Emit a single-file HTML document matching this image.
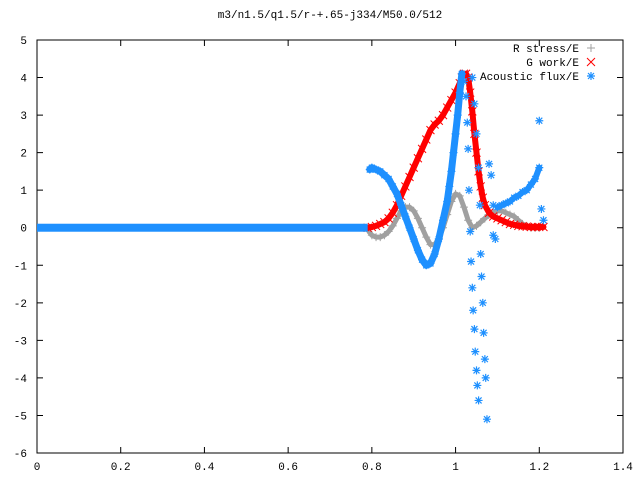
<!DOCTYPE html>
<html><head><meta charset="utf-8"><style>
body{margin:0;background:#fff}
svg{display:block}
text{font-family:"Liberation Mono","DejaVu Sans Mono",monospace;font-size:11px;fill:#000}
</style></head><body>
<svg id="c" width="640" height="480"></svg>
<script>
const xTicks=[0,0.2,0.4,0.6,0.8,1,1.2,1.4];
const xTickLabels=["0","0.2","0.4","0.6","0.8","1","1.2","1.4"];
const yTicks=[-6,-5,-4,-3,-2,-1,0,1,2,3,4,5];
const rX=[0.79,0.80,0.81,0.82,0.83,0.84,0.85,0.86,0.87,0.88,0.89,0.90,0.91,0.92,0.93,0.94,0.95,0.96,0.97,0.98,0.99,1.00,1.01,1.02,1.03,1.04,1.05,1.06,1.07,1.08,1.09,1.10,1.11,1.12,1.13,1.14,1.15,1.16,1.17,1.18,1.19,1.20];
const rY=[-0.05,-0.2,-0.25,-0.25,-0.2,-0.1,0.05,0.25,0.45,0.55,0.55,0.45,0.25,0,-0.25,-0.45,-0.45,-0.3,0,0.35,0.7,0.9,0.85,0.55,0.2,0,0.05,0.15,0.25,0.35,0.4,0.45,0.45,0.4,0.35,0.3,0.2,0.1,0.05,0,0,0];
const gX=[0.79,0.80,0.81,0.82,0.83,0.84,0.85,0.86,0.87,0.88,0.89,0.90,0.91,0.92,0.93,0.94,0.95,0.96,0.97,0.98,0.99,1.00,1.01,1.015,1.02,1.025,1.03,1.035,1.04,1.045,1.05,1.055,1.06,1.065,1.07,1.08,1.09,1.10,1.11,1.12,1.13,1.14,1.15,1.16,1.17,1.18,1.19,1.20,1.21];
const gY=[0,0.02,0.05,0.1,0.15,0.25,0.4,0.6,0.85,1.1,1.35,1.6,1.85,2.1,2.35,2.6,2.75,2.85,3.0,3.2,3.4,3.6,3.85,4.0,4.1,4.1,4.0,3.6,3.1,2.5,2.0,1.5,1.1,0.8,0.6,0.4,0.3,0.25,0.2,0.15,0.1,0.08,0.05,0.04,0.03,0.02,0.02,0.02,0.02];
const aX=[0.795,0.80,0.81,0.82,0.83,0.84,0.85,0.86,0.87,0.88,0.89,0.90,0.91,0.92,0.93,0.94,0.95,0.96,0.97,0.98,0.985,0.99,0.995,1.00,1.005,1.01,1.015,1.02,1.025,1.028,1.03,1.032,1.035,1.037,1.04,1.042,1.045,1.047,1.05,1.052,1.055,1.04,1.045,1.05,1.055,1.058,1.06,1.062,1.065,1.067,1.07,1.072,1.075,1.08,1.085,1.09,1.09,1.095,1.10,1.11,1.12,1.13,1.14,1.15,1.16,1.17,1.18,1.19,1.20,1.20,1.205,1.21];
const aY=[1.55,1.6,1.55,1.5,1.4,1.3,1.1,0.9,0.6,0.3,0,-0.3,-0.6,-0.85,-1.0,-0.95,-0.7,-0.3,0.2,0.7,1.1,1.5,2.0,2.5,3.0,3.6,4.1,3.9,3.5,2.8,2.1,1.0,-0.1,-0.9,-1.6,-2.2,-2.7,-3.3,-3.8,-4.2,-4.6,4.0,3.3,2.5,1.6,0.6,-0.7,-1.3,-2.0,-2.8,-3.5,-4.0,-5.1,1.7,1.4,0.6,-0.2,-0.3,0.55,0.6,0.65,0.7,0.8,0.85,0.95,1.0,1.15,1.3,1.6,2.85,0.5,0.2];
const flatX=[0,0.79];

const svg=document.getElementById('c');
const NS='http://www.w3.org/2000/svg';
const L=37,R=623,T=40,B=453,XMIN=0,XMAX=1.4,YMIN=-6,YMAX=5;
const sx=v=>L+(v-XMIN)/(XMAX-XMIN)*(R-L);
const sy=v=>B-(v-YMIN)/(YMAX-YMIN)*(B-T);
function mk(tag,a,p){const e=document.createElementNS(NS,tag);for(const k in a)e.setAttribute(k,a[k]);(p||svg).appendChild(e);return e;}
function plus(x,y,c,g){mk('path',{d:`M${x-4},${y}h8M${x},${y-4}v8`,stroke:c,'stroke-width':1,fill:'none'},g);}
function cross(x,y,c,g){mk('path',{d:`M${x-4},${y-4}l8,8M${x-4},${y+4}l8,-8`,stroke:c,'stroke-width':1,fill:'none'},g);}
function star(x,y,c,g){mk('path',{d:`M${x-4},${y}h8M${x},${y-4}v8M${x-3},${y-3}l6,6M${x-3},${y+3}l6,-6`,stroke:c,'stroke-width':1.2,fill:'none'},g);}
function band(xs,ys,i0,i1,c,w,g){let p=[];for(let i=i0;i<=i1;i++)p.push(sx(xs[i])+','+sy(ys[i]));
  mk('polyline',{points:p.join(' '),fill:'none',stroke:c,'stroke-width':w,'stroke-linejoin':'round','stroke-linecap':'round'},g);}

const frame=mk('rect',{x:L,y:T,width:R-L,height:B-T,fill:'none',stroke:'#000','stroke-width':1});


const title=mk('text',{x:330,y:18,'text-anchor':'middle'});title.textContent='m3/n1.5/q1.5/r-+.65-j334/M50.0/512';


xTicks.forEach((v,i)=>{const x=sx(v);
  mk('path',{d:`M${x},${B}v-6M${x},${T}v6`,stroke:'#000'});
  const t=mk('text',{x:x,y:470,'text-anchor':'middle'});t.textContent=xTickLabels[i];
  
  });
yTicks.forEach(v=>{const y=sy(v);
  mk('path',{d:`M${L},${y}h6M${R},${y}h-6`,stroke:'#000'});
  const t=mk('text',{x:27,y:y+4,'text-anchor':'end'});t.textContent=String(v);
  
  });

const gA=mk('g',{});
const gR=mk('g',{});
const gG=mk('g',{});
const zb=mk('rect',{x:sx(flatX[0]),y:sy(0)-4,width:sx(flatX[1])-sx(flatX[0]),height:8,fill:'#1e90ff'},gA);


band(rX,rY,0,rX.length-1,'#a0a0a0',5,gR);
band(gX,gY,0,gX.length-1,'#ff0000',6,gG);
band(aX,aY,0,26,'#1e90ff',7,gA);
band(aX,aY,58,68,'#1e90ff',6,gA);
rX.forEach((v,i)=>plus(sx(v),sy(rY[i]),'#a0a0a0',gR));
gX.forEach((v,i)=>cross(sx(v),sy(gY[i]),'#ff0000',gG));
aX.forEach((v,i)=>star(sx(v),sy(aY[i]),'#1e90ff',gA));
svg.appendChild(gA);

const leg=[['R stress/E','#a0a0a0',plus],['G work/E','#ff0000',cross],['Acoustic flux/E','#1e90ff',star]];
leg.forEach((l,i)=>{const y=48+i*14;
  const t=mk('text',{x:579,y:y+4,'text-anchor':'end'});t.textContent=l[0];
  
  
  l[2](591,y,l[1]);});
</script>
</body></html>
